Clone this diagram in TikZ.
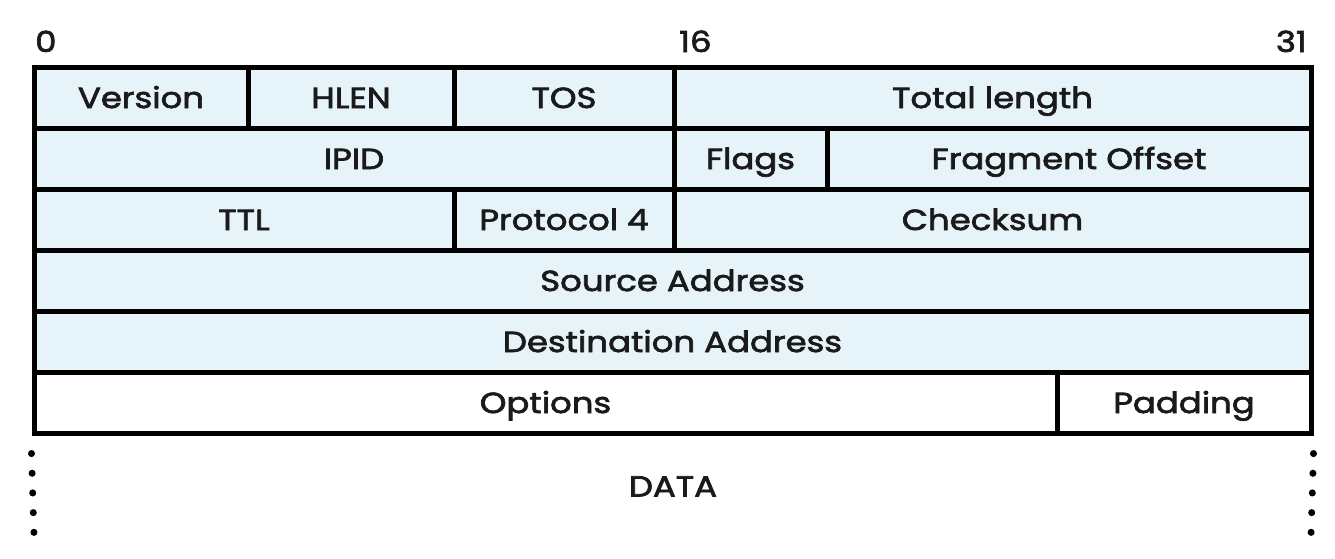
\documentclass[tikz,border=0pt]{standalone}
\usepackage{fontspec}
\setmainfont{Poppins}
\newfontfamily\lblfont{Poppins}[FakeBold=2.4, FakeStretch=1.17]
\definecolor{hdrfill}{RGB}{230,244,250}
\definecolor{ink}{RGB}{26,26,26}
\tikzset{
  lbl/.style={font=\fontsize{29}{32}\lblfont, text=ink},
  field/.style={lbl, draw=black, line width=5pt, inner sep=0pt, text height=21pt, text depth=0pt},
  bitnum/.style={lbl, inner sep=0pt},
  dataline/.style={line width=7pt, line cap=round, dash pattern=on 0.1pt off 19.6pt},
}
% \fld{name}{x1}{y1}{x2}{y2}{fill}{label}
\newcommand{\fld}[7]{%
  \node[field, fill=#6, minimum width={#4-#2}, minimum height={#5-#3}]
    (#1) at ({(#2+#4)/2},{(#3+#5)/2}) {#7};}
\begin{document}
\begin{tikzpicture}[x=1pt, y=-1pt]
\useasboundingbox (0,0) rectangle (1335,558);
% bit positions
\node[bitnum, anchor=base west] (b0) at (35,52) {0};
\node[bitnum, anchor=base west] (b16) at (679,52) {16};
\node[bitnum, anchor=base east] (b31) at (1307,52) {31};
% row 1
\fld{ver}{34}{67}{248}{128}{hdrfill}{Version}
\fld{hlen}{248}{67}{454}{128}{hdrfill}{HLEN}
\fld{tos}{454}{67}{674}{128}{hdrfill}{TOS}
\fld{tlen}{674}{67}{1311}{128}{hdrfill}{Total length}
% row 2
\fld{ipid}{34}{128}{674}{189}{hdrfill}{IPID}
\fld{flags}{674}{128}{827}{189}{hdrfill}{Flags}
\fld{frag}{827}{128}{1311}{189}{hdrfill}{Fragment Offset}
% row 3
\fld{ttl}{34}{189}{454}{250}{hdrfill}{TTL}
\fld{proto}{454}{189}{674}{250}{hdrfill}{Protocol 4}
\fld{csum}{674}{189}{1311}{250}{hdrfill}{Checksum}
% rows 4-5
\fld{src}{34}{250}{1311}{311}{hdrfill}{Source Address}
\fld{dst}{34}{311}{1311}{372}{hdrfill}{Destination Address}
% row 6
\fld{opt}{34}{372}{1057}{433}{white}{Options}
\fld{pad}{1057}{372}{1311}{433}{white}{Padding}
% data area
\coordinate (dl) at (34,535);
\coordinate (dr) at (1311,535);
\draw[dataline] (opt.south west) ++(0,18) -- (dl);
\draw[dataline] (pad.south east) ++(0,18) -- (dr);
\node[field, draw=none, minimum width=200pt, minimum height=40pt] (data) at (673,486) {DATA};
\end{tikzpicture}
\end{document}
